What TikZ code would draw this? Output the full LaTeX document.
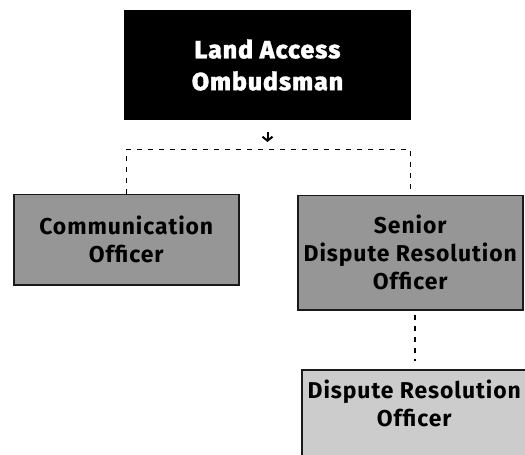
\documentclass[tikz,border=0pt]{standalone}
\usepackage{fontspec}
\setmainfont{Fira Sans}
\newfontfamily\heavyfont[UprightFont={* ExtraBold}, UprightFeatures={FakeBold=1.2}, LetterSpace=4]{Fira Sans}
\newfontfamily\boxfont[UprightFont={* Bold}, LetterSpace=4]{Fira Sans}
\usetikzlibrary{arrows.meta}
\definecolor{midgray}{HTML}{969696}
\definecolor{lightgray}{HTML}{CCCCCC}
\definecolor{edge}{HTML}{1A1A1A}
\tikzset{
  topbox/.style={fill=black, draw=none, text=white, minimum width=287bp, minimum height=110bp,
    align=center, font=\heavyfont\fontsize{25}{32}\selectfont, inner sep=0pt},
  orgbox/.style={draw=edge, line width=1.5bp, minimum width=225bp, align=center,
    font=\boxfont\fontsize{23}{28}\selectfont, inner sep=0pt, anchor=north west},
  busline/.style={draw=black, line width=1.4bp, dash pattern=on 5bp off 6bp},
  downarrow/.style={draw=black, line width=2bp, -{Straight Barb[length=4bp,width=10bp]}}
}
\begin{document}
\begin{tikzpicture}[x=1bp,y=-1bp]
\useasboundingbox (0,0) rectangle (525,455);
\clip (0,0) rectangle (525,455);
\fill[white] (0,0) rectangle (525,455);
\node (ombud) [topbox] at (267.5,65) {Land Access\\Ombudsman};
\node (comm) [orgbox, fill=midgray, minimum height=90bp] at (13,194) {Communication\\Officer};
\node (sdro) [orgbox, fill=midgray, minimum height=114bp] at (297,195) {Senior\\Dispute Resolution\\Officer};
\node (dro) [orgbox, fill=lightgray, minimum height=114bp] at (301,369) {Dispute Resolution\\Officer\\[20bp]\mbox{}};
\coordinate (a1) at (267.5,132);
\coordinate (a2) at (267.5,142);
\coordinate (bus) at (267.5,149.5);
\coordinate (l1) at (415,315);
\coordinate (l2) at (415,361);
\draw[downarrow] (a1) -- (a2);
\draw[busline] (comm.north) -- (comm.north |- bus) -- (sdro.north |- bus) -- (sdro.north);
\draw[busline] (l1) -- (l2);
\end{tikzpicture}
\end{document}
